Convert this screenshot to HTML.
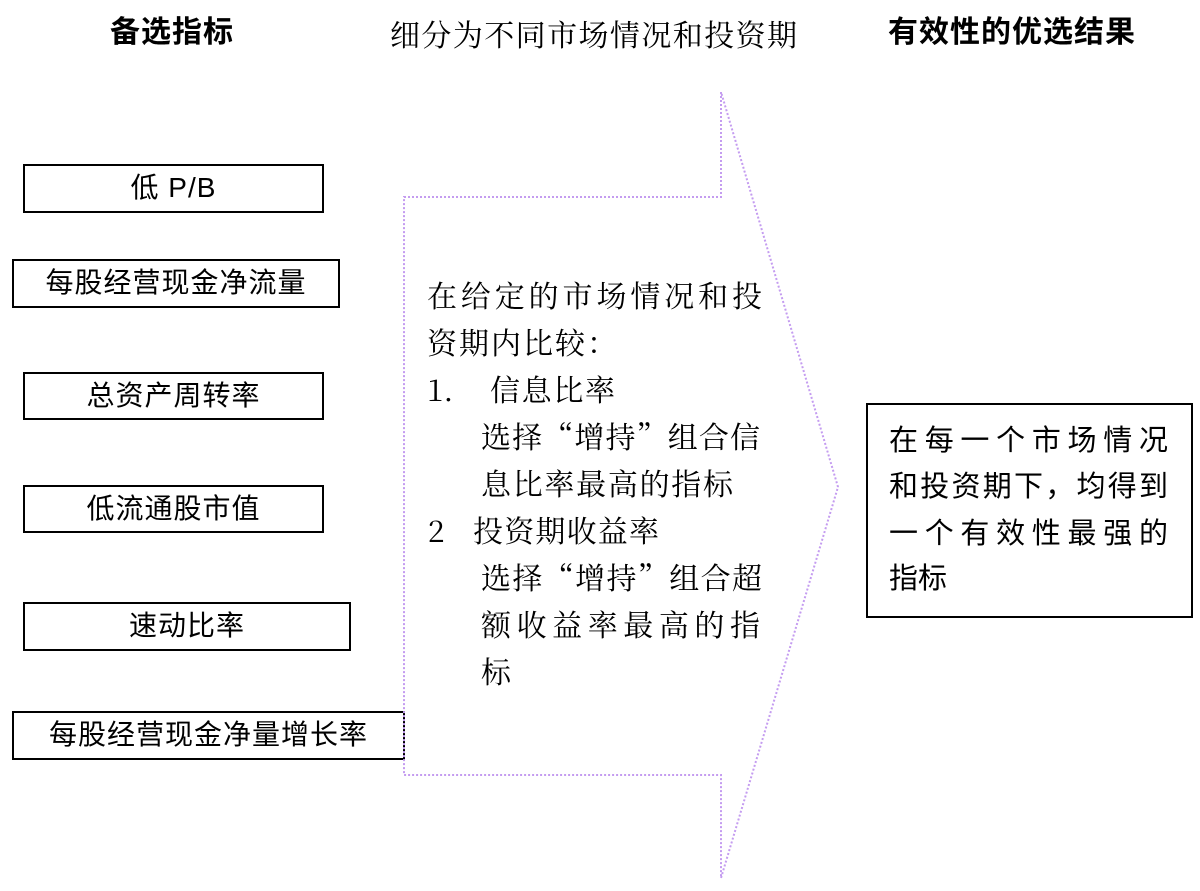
<!DOCTYPE html>
<html><head><meta charset="utf-8"><style>
body{margin:0;width:1200px;height:891px;background:#fff;position:relative;overflow:hidden;font-family:"Liberation Sans","Noto Sans CJK SC",sans-serif;color:#000}
.b{position:absolute;border:2px solid #000;box-sizing:border-box;text-align:center;font-size:28px;line-height:44px;letter-spacing:1px}
.t{position:absolute;white-space:nowrap;font-size:30px;line-height:34px}
.h{font-weight:bold;font-size:30px;letter-spacing:1px}
.m{font-family:"Noto Serif CJK SC","Liberation Serif",serif;font-size:30px}
.j{text-align:justify;text-align-last:justify}
.r{font-size:29px}
</style></head><body>
<div class="t h" style="left:110px;top:16px">备选指标</div>
<div class="t m j" style="left:390px;top:16px;width:407px">细分为不同市场情况和投资期</div>
<div class="t h" style="left:888px;top:16px">有效性的优选结果</div>

<div class="b" style="left:23px;top:164px;width:301px;height:49px">低 P/B</div>
<div class="b" style="left:12px;top:259px;width:328px;height:49px">每股经营现金净流量</div>
<div class="b" style="left:23px;top:372px;width:301px;height:48px">总资产周转率</div>
<div class="b" style="left:23px;top:485px;width:301px;height:48px">低流通股市值</div>
<div class="b" style="left:23px;top:602px;width:328px;height:49px">速动比率</div>
<div class="b" style="left:12px;top:711px;width:393px;height:49px">每股经营现金净量增长率</div>

<svg style="position:absolute;left:0;top:0" width="1200" height="891">
<polygon points="404,197 721,197 721,92 838,487 721,878 721,775 404,775" fill="none" stroke="#c49cf0" stroke-width="2" stroke-dasharray="2,2"/>
</svg>

<div class="t m j" style="left:427px;top:277px;width:335px">在给定的市场情况和投</div>
<div class="t m" style="left:427px;top:324px;letter-spacing:2px">资期内比较：</div>
<div class="t m" style="left:427px;top:371px">1.</div>
<div class="t m j" style="left:490px;top:371px;width:125px">信息比率</div>
<div class="t m j" style="left:481px;top:418px;width:279px">选择“增持”组合信</div>
<div class="t m j" style="left:481px;top:465px;width:252px">息比率最高的指标</div>
<div class="t m" style="left:428px;top:512px">2</div>
<div class="t m j" style="left:473px;top:512px;width:186px">投资期收益率</div>
<div class="t m j" style="left:481px;top:559px;width:281px">选择“增持”组合超</div>
<div class="t m j" style="left:481px;top:606px;width:279px">额收益率最高的指</div>
<div class="t m" style="left:481px;top:653px">标</div>

<div class="b" style="left:866px;top:403px;width:327px;height:215px"></div>
<div class="t r j" style="left:889px;top:424px;width:279px">在每一个市场情况</div>
<div class="t r j" style="left:889px;top:470px;width:279px">和投资期下，均得到</div>
<div class="t r j" style="left:889px;top:517px;width:279px">一个有效性最强的</div>
<div class="t r" style="left:889px;top:562px">指标</div>
</body></html>
